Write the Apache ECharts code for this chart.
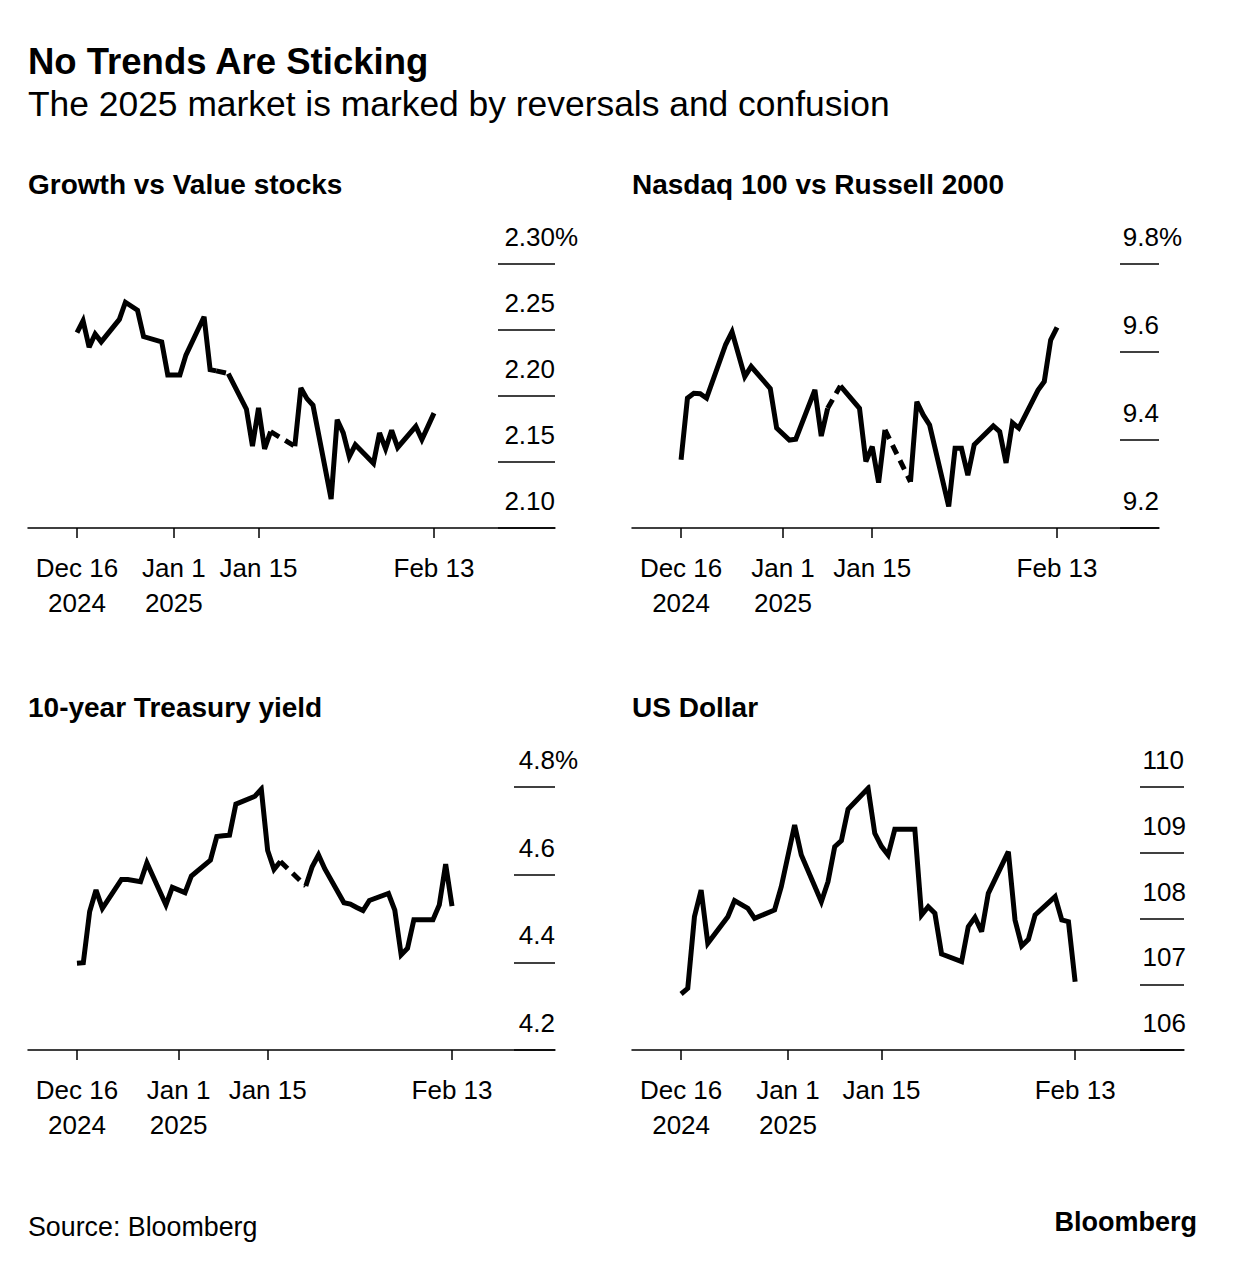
<!DOCTYPE html>
<html>
<head>
<meta charset="utf-8">
<title>No Trends Are Sticking</title>
<script src="https://cdn.jsdelivr.net/npm/echarts@6/dist/echarts.min.js"></script>
<style>
  html, body { margin: 0; padding: 0; background: #fff; }
  #chart { width: 1236px; height: 1284px; }
</style>
</head>
<body>
<div id="chart"></div>
<script>
// trading days on the charts (Dec 25 and Jan 1 are not in the data)
var dates = [
  "2024-12-16", "2024-12-17", "2024-12-18", "2024-12-19", "2024-12-20",
  "2024-12-23", "2024-12-24", "2024-12-26", "2024-12-27", "2024-12-30", "2024-12-31",
  "2025-01-02", "2025-01-03", "2025-01-06", "2025-01-07", "2025-01-08", "2025-01-09", "2025-01-10",
  "2025-01-13", "2025-01-14", "2025-01-15", "2025-01-16", "2025-01-17",
  "2025-01-20", "2025-01-21", "2025-01-22", "2025-01-23", "2025-01-24",
  "2025-01-27", "2025-01-28", "2025-01-29", "2025-01-30", "2025-01-31",
  "2025-02-03", "2025-02-04", "2025-02-05", "2025-02-06", "2025-02-07",
  "2025-02-10", "2025-02-11", "2025-02-12", "2025-02-13"
];

// null = market closed, drawn as a dashed bridge
var growthValue = [
  2.248, 2.257, 2.237, 2.247, 2.241,
  2.258, 2.271, 2.265, 2.245, 2.241, 2.216,
  2.216, 2.231, 2.260, 2.220, 2.219, null, 2.217,
  2.190, 2.162, 2.191, 2.160, 2.173,
  null, 2.162, 2.206, 2.198, 2.193,
  2.122, 2.182, 2.172, 2.154, 2.163,
  2.149, 2.172, 2.160, 2.174, 2.161,
  2.177, 2.167, 2.177, 2.187
];
var nasdaqRussell = [
  9.355, 9.495, 9.506, 9.505, 9.495,
  9.617, 9.646, 9.544, 9.567, 9.517, 9.427,
  9.400, 9.402, 9.514, 9.409, 9.472, null, 9.523,
  9.472, 9.351, 9.385, 9.303, 9.423,
  null, 9.305, 9.487, 9.457, 9.434,
  9.249, 9.381, 9.381, 9.320, 9.389,
  9.432, 9.419, 9.348, 9.439, 9.427,
  9.513, 9.533, 9.627, 9.656
];
var treasury10y = [
  4.398, 4.399, 4.516, 4.565, 4.523,
  4.589, 4.589, 4.584, 4.627, 4.531, 4.571,
  4.559, 4.597, 4.633, 4.687, 4.689, 4.690, 4.761,
  4.779, 4.795, 4.655, 4.612, 4.630,
  null, 4.574, 4.618, 4.645, 4.613,
  4.536, 4.533, 4.525, 4.518, 4.541,
  4.557, 4.519, 4.417, 4.432, 4.497,
  4.497, 4.531, 4.624, 4.528
];
var usDollar = [
  106.852, 106.938, 108.028, 108.433, 107.622,
  108.028, 108.271, 108.155, 108.003, 108.129, 108.484,
  109.422, 108.966, 108.256, 108.560, 109.092, 109.183, 109.661,
  109.980, 109.296, 109.098, 108.966, 109.356,
  109.356, 108.053, 108.180, 108.079, 107.460,
  107.343, 107.876, 108.018, 107.800, 108.383,
  109.016, 107.977, 107.582, 107.683, 108.053,
  108.332, 107.977, 107.952, 107.039
];

var tickDates = ["2024-12-16", "2025-01-01", "2025-01-15", "2025-02-13"];
var tickLabels = ["Dec 16\n2024", "Jan 1\n2025", "Jan 15", "Feb 13"];

var DAY = 86400000;
var FONT = '"Liberation Sans", Arial, Helvetica, sans-serif';

function toTime(s) {
  var p = s.split("-");
  return Date.UTC(+p[0], +p[1] - 1, +p[2]);
}
var start = toTime(dates[0]);
var tickTimes = tickDates.map(toTime);

function solidData(values) {
  return dates.map(function (d, i) {
    return [toTime(d), values[i] == null ? "-" : values[i]];
  });
}
// short dashed pieces across the days with no data
function dashData(values) {
  var out = [];
  values.forEach(function (v, i) {
    if (v == null && i > 0 && i < values.length - 1) {
      out.push([toTime(dates[i - 1]), values[i - 1]]);
      out.push([toTime(dates[i + 1]), values[i + 1]]);
      out.push([toTime(dates[i + 1]), "-"]);
    }
  });
  return out;
}

// width of a value label, so the numbers end at the right edge of the gridlines
var measureCtx = document.createElement("canvas").getContext("2d");
function textWidth(s, size) {
  measureCtx.font = size + "px " + FONT;
  return measureCtx.measureText(s).width;
}

var panels = [
  { title: "Growth vs Value stocks", values: growthValue, min: 2.10, max: 2.30, step: 0.05, digits: 2, unit: "%",
    left: 28, top: 264, width: 527, height: 264, labelWidth: 57, dayFrom: -8.1, dayTo: 79 },
  { title: "Nasdaq 100 vs Russell 2000", values: nasdaqRussell, min: 9.2, max: 9.8, step: 0.2, digits: 1, unit: "%",
    left: 632, top: 264, width: 527, height: 264, labelWidth: 39, dayFrom: -7.7, dayTo: 75 },
  { title: "10-year Treasury yield", values: treasury10y, min: 4.2, max: 4.8, step: 0.2, digits: 1, unit: "%",
    left: 28, top: 787, width: 527, height: 263, labelWidth: 41, dayFrom: -7.7, dayTo: 75.2 },
  { title: "US Dollar", values: usDollar, min: 106, max: 110, step: 1, digits: 0, unit: "",
    left: 632, top: 787, width: 552, height: 263, labelWidth: 44, dayFrom: -7.35, dayTo: 75.3 }
];

var grids = [], xAxes = [], yAxes = [], series = [], texts = [];

texts.push({ type: "text", x: 28, y: 61, style: { text: "No Trends Are Sticking", fill: "#000",
  fontFamily: FONT, fontSize: 36.5, fontWeight: "bold", verticalAlign: "middle" } });
texts.push({ type: "text", x: 28, y: 104, style: { text: "The 2025 market is marked by reversals and confusion", fill: "#000",
  fontFamily: FONT, fontSize: 35.4, verticalAlign: "middle" } });
texts.push({ type: "text", x: 28, y: 1227, style: { text: "Source: Bloomberg", fill: "#000",
  fontFamily: FONT, fontSize: 26.8, verticalAlign: "middle" } });
texts.push({ type: "text", x: 1197, y: 1222, style: { text: "Bloomberg", fill: "#000",
  fontFamily: FONT, fontSize: 27, fontWeight: "bold", align: "right", verticalAlign: "middle" } });

panels.forEach(function (p, k) {
  var g = k * 2;
  texts.push({ type: "text", x: p.left, y: p.top - 80, style: { text: p.title, fill: "#000",
    fontFamily: FONT, fontSize: 28, fontWeight: "bold", verticalAlign: "middle" } });

  grids.push({ left: p.left, top: p.top, width: p.width, height: p.height });
  grids.push({ left: p.left + p.width - p.labelWidth, top: p.top, width: p.labelWidth, height: p.height });

  // dates as plain timestamps on a value axis, ticks only on the four labelled days
  xAxes.push({
    type: "value",
    gridIndex: g,
    min: start + p.dayFrom * DAY,
    max: start + p.dayTo * DAY,
    axisLine: { show: true, onZero: false, lineStyle: { color: "#000", width: 1.5 } },
    axisTick: { show: true, length: 10, customValues: tickTimes, lineStyle: { color: "#000", width: 1.5 } },
    axisLabel: {
      customValues: tickTimes,
      margin: 22,
      color: "#000",
      fontFamily: FONT,
      fontSize: 26,
      lineHeight: 35,
      formatter: function (v) {
        var i = tickTimes.indexOf(v);
        return i < 0 ? "" : tickLabels[i];
      }
    },
    splitLine: { show: false }
  });
  xAxes.push({ type: "value", gridIndex: g + 1, show: false });

  var numWidth = textWidth(p.max.toFixed(p.digits), 26);
  yAxes.push({ type: "value", gridIndex: g, min: p.min, max: p.max, show: false });
  yAxes.push({
    type: "value",
    gridIndex: g + 1,
    position: "left",
    min: p.min,
    max: p.max,
    interval: p.step,
    axisLine: { show: false },
    axisTick: { show: false },
    splitLine: { show: true, lineStyle: { color: "#000", width: 1.5 } },
    axisLabel: {
      inside: true,
      margin: p.labelWidth - numWidth,
      showMinLabel: true,
      showMaxLabel: true,
      hideOverlap: false,
      color: "#000",
      fontFamily: FONT,
      fontSize: 26,
      verticalAlign: "bottom",
      lineHeight: 54,
      formatter: function (v) {
        return v.toFixed(p.digits) + (Math.abs(v - p.max) < 1e-9 ? p.unit : "");
      }
    }
  });

  series.push({
    type: "line",
    xAxisIndex: g,
    yAxisIndex: g,
    data: solidData(p.values),
    showSymbol: false,
    connectNulls: false,
    lineStyle: { color: "#000", width: 5, join: "miter", miterLimit: 3 }
  });
  series.push({
    type: "line",
    xAxisIndex: g,
    yAxisIndex: g,
    data: dashData(p.values),
    showSymbol: false,
    lineStyle: { color: "#000", width: 5, type: [10, 7] }
  });
});

var chart = echarts.init(document.getElementById("chart"), null, { renderer: "svg" });
chart.setOption({
  backgroundColor: "#fff",
  animation: false,
  grid: grids,
  xAxis: xAxes,
  yAxis: yAxes,
  series: series,
  graphic: texts
});
window.addEventListener("resize", function () {
  chart.resize();
});
</script>
</body>
</html>
